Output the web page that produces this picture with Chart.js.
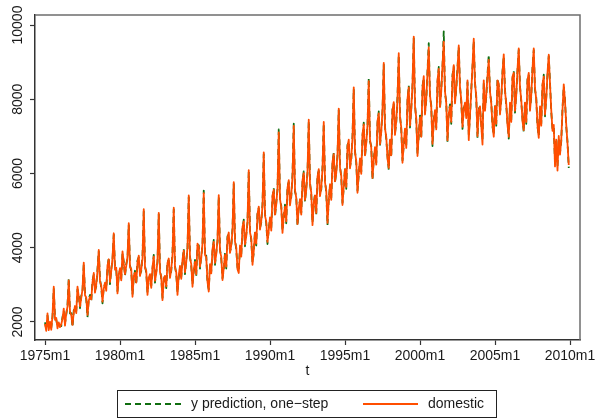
<!DOCTYPE html>
<html>
<head>
<meta charset="utf-8">
<script src="https://cdn.jsdelivr.net/npm/chart.js@4"></script>
<style>
  html, body { margin: 0; padding: 0; background: #fff; }
  canvas { display: block; }
</style>
</head>
<body>
<canvas id="myChart" width="595" height="419"></canvas>
<script>
// monthly series, t = 0 is 1975m1
const tickMonths = [0, 60, 120, 180, 240, 300, 360, 420];
const tickLabels = ['1975m1', '1980m1', '1985m1', '1990m1', '1995m1', '2000m1', '2005m1', '2010m1'];
const yTicks = [2000, 4000, 6000, 8000, 10000];
const seriesNames = ['y prediction, one\u2212step', 'domestic'];

const domestic = [
  1950, 1760, 2230, 1780, 2010, 1790, 2180, 2950, 2060, 2110, 1830, 1990, // 1975
  1860, 1940, 2080, 2360, 1900, 2240, 2410, 3120, 2280, 2190, 1920, 2260,
  2430, 2240, 2950, 2680, 2420, 2640, 2880, 3600, 2720, 2660, 2190, 2570,
  2680, 2610, 3060, 3320, 2790, 3010, 3380, 3940, 3090, 2980, 2550, 2900,
  3060, 2840, 3520, 3690, 3080, 3370, 3720, 4390, 3410, 3460, 2770, 3290,
  3450, 3120, 3900, 3580, 3290, 3510, 3760, 4660, 3480, 3430, 2680, 3240, // 1980
  3330, 3060, 3610, 3790, 3240, 3420, 3720, 5040, 3460, 3380, 2730, 3190,
  3290, 2920, 3480, 3760, 3110, 3310, 3660, 4940, 3340, 3230, 2590, 3160,
  3240, 2960, 3590, 3710, 3190, 3420, 3810, 5080, 3460, 3340, 2730, 3260,
  3510, 3160, 3680, 3920, 3340, 3610, 4010, 5410, 3720, 3560, 2950, 3410,
  3620, 3290, 4110, 4020, 3490, 3720, 4120, 5470, 3810, 3740, 3090, 2820, // 1985
  3560, 3310, 3960, 4160, 3590, 3820, 4210, 5420, 3910, 3760, 3130, 3460,
  3810, 3490, 4260, 4410, 3860, 4060, 4460, 5770, 4160, 4010, 3420, 3320,
  4060, 3760, 4560, 4710, 4090, 4310, 4720, 6090, 4410, 4260, 3540, 3910,
  4410, 4110, 4910, 5110, 4490, 4720, 5120, 6570, 4860, 4710, 4160, 4460,
  4820, 4460, 5410, 5560, 4890, 5160, 5610, 7110, 5310, 5090, 4400, 4860, // 1990
  5110, 4710, 5610, 5820, 5140, 5410, 5920, 7280, 5560, 5340, 4640, 5060,
  5310, 4890, 5820, 6010, 5290, 5560, 6060, 7450, 5710, 5490, 4610, 5210,
  5410, 4940, 5910, 6120, 5390, 5610, 6120, 7390, 5760, 5540, 4670, 5260,
  5710, 5290, 6310, 6520, 5790, 6010, 6520, 7750, 6160, 5940, 5150, 5660,
  6110, 5640, 6720, 6910, 6140, 6410, 6960, 8320, 6560, 6340, 5480, 6010, // 1995
  6410, 5990, 7060, 7320, 6490, 6810, 7310, 8490, 6910, 6690, 5880, 6360,
  6710, 6240, 7410, 7620, 6790, 7110, 7720, 8980, 7210, 6990, 6410, 6150,
  6910, 6490, 7710, 7920, 7040, 7410, 8020, 9240, 7510, 7240, 6290, 6810,
  7210, 6690, 8010, 8320, 7290, 7710, 8420, 9690, 7810, 7490, 6470, 7060,
  7510, 6990, 8310, 8620, 7590, 8010, 8720, 9400, 8110, 7790, 6800, 7410, // 2000
  7710, 7190, 8510, 8820, 7790, 8210, 8920, 9550, 8210, 7890, 6900, 7610,
  7810, 7390, 8610, 8920, 7890, 8310, 8820, 9450, 8310, 7990, 7260, 7710,
  7910, 7490, 8510, 6900, 7590, 8210, 8920, 9630, 8410, 8090, 7010, 7710,
  7810, 7290, 6780, 8510, 7690, 8110, 8620, 9060, 8210, 7890, 7310, 6990,
  7810, 7340, 8510, 8410, 7590, 8010, 8710, 9210, 8210, 7890, 7310, 6990, // 2005
  7910, 7390, 8610, 8710, 7690, 8110, 8810, 9370, 8310, 7990, 7410, 7170,
  7910, 7390, 8510, 8710, 7690, 8110, 8810, 9370, 8310, 7990, 7310, 6960,
  7810, 7290, 8410, 8610, 7590, 8010, 8710, 9200, 8410, 7710, 7150, 7310,
  6190, 6910, 6080, 7010, 6510, 6910, 7710, 8400, 7940, 7310, 6810, 6230
];

const prediction = [
  1990, 1800, 2170, 1850, 1960, 1850, 2130, 2890, 2120, 2060, 1880, 1950, // 1975
  1920, 1890, 2130, 2300, 1970, 2190, 2460, 3180, 2230, 2240, 1860, 2310,
  2380, 2290, 2880, 2740, 2370, 2700, 2830, 3560, 2780, 2610, 2130, 2620,
  2730, 2560, 3120, 3270, 2850, 2960, 3430, 3900, 3150, 2930, 2500, 2950,
  3010, 2890, 3470, 3740, 3020, 3420, 3670, 4350, 3470, 3410, 2830, 3240,
  3400, 3170, 3850, 3630, 3240, 3560, 3710, 4610, 3530, 3380, 2740, 3190, // 1980
  3380, 3010, 3660, 3740, 3290, 3370, 3770, 4980, 3510, 3330, 2790, 3140,
  3240, 2970, 3430, 3810, 3060, 3360, 3610, 4900, 3390, 3180, 2650, 3110,
  3290, 2910, 3640, 3660, 3240, 3370, 3860, 5030, 3510, 3290, 2790, 3210,
  3460, 3210, 3630, 3970, 3290, 3660, 3960, 5360, 3770, 3510, 3010, 3360,
  3670, 3240, 4060, 4070, 3440, 3770, 4070, 5540, 3760, 3790, 3040, 2880, // 1985
  3510, 3360, 3910, 4210, 3540, 3870, 4160, 5380, 3960, 3710, 3180, 3410,
  3860, 3440, 4310, 4360, 3910, 4010, 4510, 5720, 4210, 3960, 3470, 3370,
  4010, 3810, 4510, 4760, 4040, 4360, 4670, 6040, 4460, 4210, 3600, 3860,
  4460, 4060, 4960, 5060, 4540, 4670, 5170, 6520, 4910, 4660, 4100, 4510,
  4770, 4510, 5360, 5610, 4840, 5210, 5560, 7190, 5260, 5140, 4460, 4810, // 1990
  5160, 4660, 5660, 5770, 5190, 5360, 5970, 7340, 5510, 5390, 4590, 5110,
  5260, 4940, 5770, 6060, 5240, 5610, 6010, 7410, 5760, 5440, 4670, 5160,
  5460, 4890, 5960, 6070, 5440, 5560, 6170, 7350, 5810, 5490, 4610, 5310,
  5660, 5340, 6260, 6570, 5740, 6060, 6470, 7710, 6210, 5890, 5210, 5610,
  6160, 5590, 6770, 6860, 6190, 6360, 7010, 8270, 6610, 6290, 5540, 5960, // 1995
  6360, 6040, 7010, 7370, 6440, 6860, 7260, 8570, 6860, 6740, 5830, 6410,
  6660, 6290, 7360, 7670, 6740, 7160, 7670, 8930, 7260, 6940, 6460, 6100,
  6960, 6440, 7760, 7870, 7090, 7360, 8070, 9190, 7560, 7190, 6350, 6760,
  7160, 6740, 7960, 8370, 7240, 7760, 8370, 9640, 7860, 7440, 6530, 7010,
  7560, 6940, 8360, 8570, 7640, 7960, 8770, 9510, 8060, 7840, 6740, 7460, // 2000
  7660, 7240, 8460, 8870, 7740, 8260, 8870, 9830, 8160, 7940, 6850, 7660,
  7860, 7340, 8660, 8870, 7940, 8260, 8870, 9410, 8360, 7940, 7200, 7760,
  7860, 7540, 8460, 7050, 7540, 8260, 8870, 9580, 8460, 8040, 6960, 7760,
  7760, 7340, 6900, 8460, 7740, 8060, 8670, 9200, 8160, 7940, 7260, 7040,
  7860, 7290, 8560, 8360, 7640, 7960, 8760, 9160, 8260, 7840, 7360, 6940, // 2005
  7860, 7440, 8560, 8760, 7640, 8160, 8760, 9330, 8360, 7940, 7460, 7120,
  7960, 7340, 8560, 8660, 7740, 8060, 8860, 9320, 8260, 8040, 7260, 7010,
  7760, 7340, 8360, 8660, 7540, 8060, 8660, 9160, 8460, 7660, 7200, 7260,
  6300, 6860, 6200, 6960, 6560, 6860, 7760, 8350, 7990, 7260, 6860, 6150
];

const fontFamily = '"Liberation Sans", Arial, Helvetica, sans-serif';
const textColor = '#1a1a1a';
const domesticColor = 'rgb(255, 78, 0)';
const predictionColor = 'rgb(16, 110, 16)';
const predictionDash = [6, 4];

// plot region frame, rotated y labels and boxed legend
const framePlugin = {
  id: 'frame',
  afterDraw(chart) {
    const ctx = chart.ctx;
    const area = chart.chartArea;
    const yScale = chart.scales.y;

    ctx.save();
    ctx.strokeStyle = '#6e6e6e';
    ctx.lineWidth = 1.5;
    ctx.beginPath();
    ctx.moveTo(area.left, area.top);
    ctx.lineTo(area.right, area.top);
    ctx.lineTo(area.right, area.bottom);
    ctx.stroke();

    ctx.fillStyle = textColor;
    ctx.font = '14px ' + fontFamily;
    ctx.textAlign = 'center';
    ctx.textBaseline = 'middle';
    yTicks.forEach(v => {
      const y = yScale.getPixelForValue(v);
      ctx.save();
      ctx.translate(18, y);
      ctx.rotate(-Math.PI / 2);
      ctx.fillText(String(v), 0, 0);
      ctx.restore();
    });

    // legend
    ctx.strokeStyle = '#222';
    ctx.lineWidth = 1;
    ctx.strokeRect(117.5, 390.5, 379, 27);
    const ly = 404;
    ctx.lineWidth = 1.8;
    ctx.strokeStyle = predictionColor;
    ctx.setLineDash(predictionDash);
    ctx.beginPath();
    ctx.moveTo(125, ly);
    ctx.lineTo(181, ly);
    ctx.stroke();
    ctx.setLineDash([]);
    ctx.strokeStyle = domesticColor;
    ctx.beginPath();
    ctx.moveTo(363, ly);
    ctx.lineTo(418, ly);
    ctx.stroke();
    ctx.textAlign = 'left';
    ctx.fillText(seriesNames[0], 191, ly);
    ctx.fillText(seriesNames[1], 428, ly);
    ctx.restore();
  }
};

const ctx = document.getElementById('myChart');

new Chart(ctx, {
  type: 'line',
  data: {
    datasets: [{
      label: seriesNames[1],
      data: domestic.map((v, i) => ({ x: i, y: v })),
      borderColor: domesticColor,
      borderWidth: 1.8,
      borderJoinStyle: 'round',
      pointRadius: 0,
      order: 0
    }, {
      label: seriesNames[0],
      data: prediction.map((v, i) => ({ x: i, y: v })),
      borderColor: predictionColor,
      borderWidth: 1.8,
      borderDash: predictionDash,
      borderJoinStyle: 'round',
      pointRadius: 0,
      order: 1
    }]
  },
  options: {
    responsive: false,
    animation: false,
    devicePixelRatio: 1,
    layout: {
      padding: { left: 0, top: 15, right: 15, bottom: 29 }
    },
    plugins: {
      legend: { display: false },
      tooltip: { enabled: false }
    },
    scales: {
      x: {
        type: 'linear',
        min: -8,
        max: 428,
        afterBuildTicks: s => { s.ticks = tickMonths.map(v => ({ value: v })); },
        afterFit: s => { s.height = 50; s.paddingLeft = 0; s.paddingRight = 0; },
        ticks: {
          autoSkip: false,
          maxRotation: 0,
          padding: 3,
          color: textColor,
          font: { family: fontFamily, size: 14 },
          callback: (v, i) => tickLabels[i]
        },
        grid: {
          drawOnChartArea: false,
          tickLength: 5,
          tickColor: '#333',
          tickWidth: 1.2
        },
        border: { color: '#333', width: 1.5 },
        title: {
          display: true,
          text: 't',
          color: textColor,
          font: { family: fontFamily, size: 14 },
          padding: { top: 0, bottom: 10 }
        }
      },
      y: {
        min: 1515,
        max: 10270,
        afterBuildTicks: s => { s.ticks = yTicks.map(v => ({ value: v })); },
        afterFit: s => { s.width = 35; s.paddingTop = 0; s.paddingBottom = 0; },
        ticks: { display: false },
        grid: {
          drawOnChartArea: false,
          tickLength: 5,
          tickColor: '#333',
          tickWidth: 1.2
        },
        border: { color: '#333', width: 1.5 }
      }
    }
  },
  plugins: [framePlugin]
});
</script>
</body>
</html>
